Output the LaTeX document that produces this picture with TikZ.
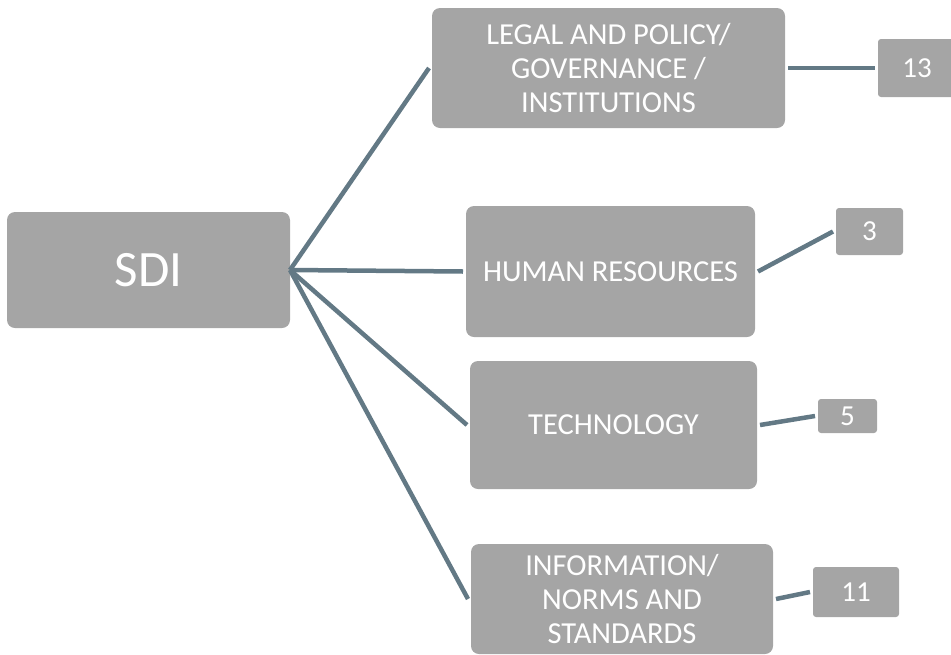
\documentclass[tikz,border=0pt]{standalone}
\usepackage{fontspec}
\setmainfont{Carlito}
\definecolor{boxgray}{RGB}{165,165,165}
\definecolor{linkslate}{RGB}{99,121,133}

\begin{document}
\begin{tikzpicture}[x = 1pt, y = -1pt, line width = 4.5pt]
        \tikzstyle{topic} = [shape = rectangle, rounded corners = 8pt, fill = boxgray, text = white, inner sep = 0pt, outer sep = 3pt, align = center, font = \fontsize{30.5}{34}\selectfont]
        \tikzstyle{count} = [shape = rectangle, rounded corners = 3pt, fill = boxgray, text = white, inner sep = 0pt, outer sep = 3pt, font = \fontsize{29}{32}\selectfont]
        \tikzstyle{link} = [draw = linkslate]
        \useasboundingbox (0, 0) rectangle (951, 654);
        \node[topic] (SDI) at (148.5, 270) [minimum width = 283pt, minimum height = 116pt, outer sep = 0pt, font = \fontsize{51}{60}\selectfont] {SDI};
        \node[topic] (T-1) at (608.5, 68) [minimum width = 353pt, minimum height = 120pt] {LEGAL AND POLICY/\\GOVERNANCE /\\INSTITUTIONS};
        \node[topic] (T-2) at (610.5, 271.5) [minimum width = 289pt, minimum height = 131pt] {HUMAN RESOURCES};
        \node[topic] (T-3) at (613.5, 425) [minimum width = 287pt, minimum height = 128pt] {TECHNOLOGY};
        \node[topic] (T-4) at (622, 599) [minimum width = 302pt, minimum height = 110pt] {INFORMATION/\\NORMS AND\\STANDARDS};
        \node[count] (C-1) at (917, 68) [minimum width = 78pt, minimum height = 58pt] {13};
        \node[count] (C-2) at (869.5, 231.5) [minimum width = 67pt, minimum height = 47pt] {3};
        \node[count] (C-3) at (847.5, 416) [minimum width = 59pt, minimum height = 34pt] {5};
        \node[count] (C-4) at (856, 592) [minimum width = 86pt, minimum height = 50pt] {11};
        \draw[link] (SDI.east) -- (T-1.west);
        \draw[link] (SDI.east) -- (T-2.west);
        \draw[link] (SDI.east) -- (T-3.west);
        \draw[link] (SDI.east) -- (T-4.west);
        \draw[link] (T-1.east) -- (C-1.west);
        \draw[link] (T-2.east) -- (C-2.west);
        \draw[link] (T-3.east) -- (C-3.west);
        \draw[link] (T-4.east) -- (C-4.west);
      \end{tikzpicture}
\end{document}
